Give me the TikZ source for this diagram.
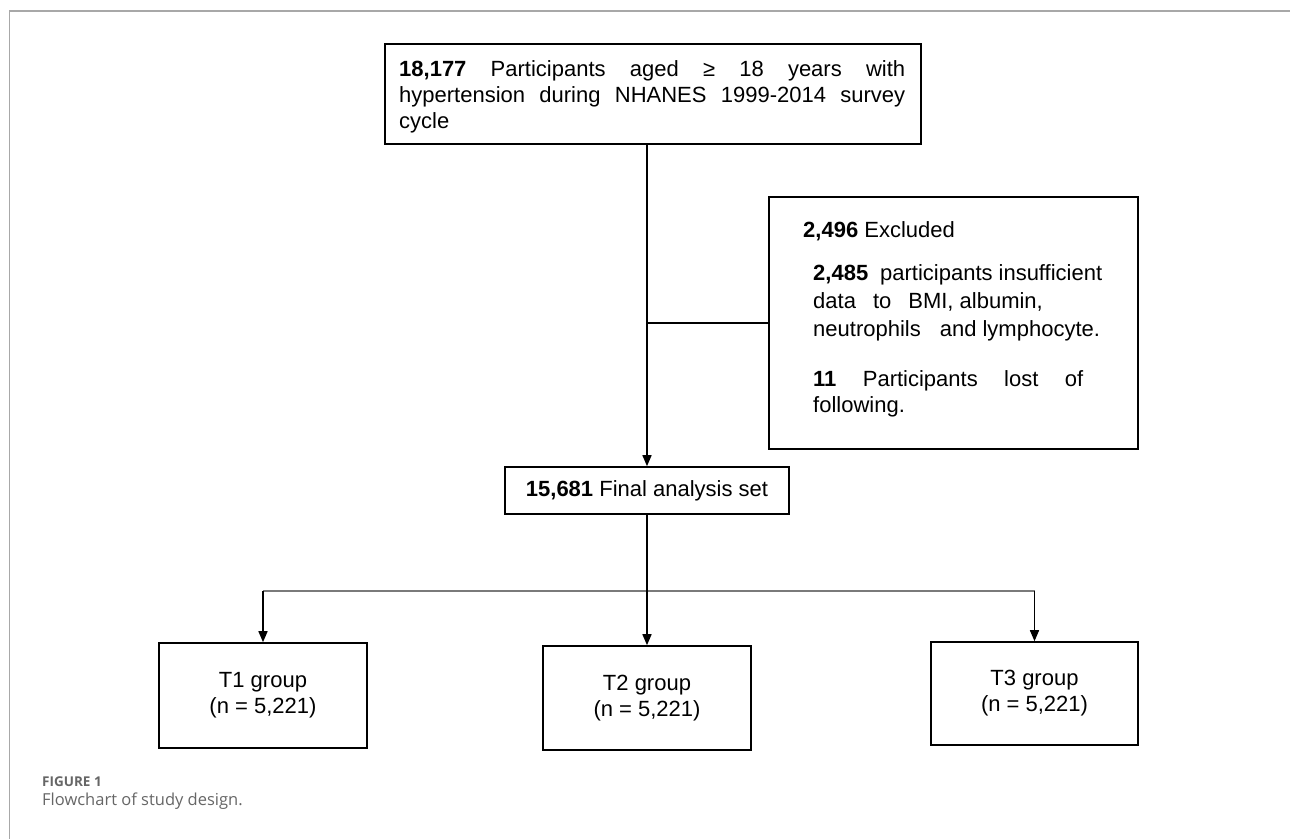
\documentclass[tikz,border=0pt]{standalone}
\usepackage{fontspec}
\setmainfont{Liberation Sans}
\newfontfamily\capfont{Open Sans}
\usetikzlibrary{arrows.meta}
\definecolor{capgray}{HTML}{666666}
\definecolor{framegray}{HTML}{A8A8A8}
\definecolor{hgray}{HTML}{7A7A7A}
\begin{document}
\begin{tikzpicture}[x=1pt,y=-1pt,
  box/.style={draw=black,line width=1.6pt,inner sep=0pt},
  conn/.style={line width=1.5pt,black},
  arr/.style={conn,-{Triangle[length=11pt,width=9pt]}},
  bar/.style={line width=1.5pt,hgray},
  txt/.style={inner sep=0pt,font=\fontsize{22}{26}\selectfont},
]
\useasboundingbox (0,0) rectangle (1290,839);
% frame
\draw[framegray,line width=2pt] (9,10.5) -- (1290,10.5);
\draw[framegray,line width=1pt] (9,10.5) -- (9,839);

% top box
\node[box,minimum width=536pt,minimum height=100pt] (top) at (653,94) {};
\node[txt,anchor=base west] (toptext) at (399,76) {\begin{tabular}[t]{@{}l@{}}\makebox[506pt][s]{\textbf{18,177} Participants aged ≥ 18 years with}\\ \makebox[506pt][s]{hypertension during NHANES 1999-2014 survey}\\ cycle\end{tabular}};

% excluded box
\node[box,minimum width=369pt,minimum height=252pt] (exc) at (953.5,323) {};
\node[txt,anchor=base west,font=\fontsize{22}{28}\selectfont] (exctext) at (803,237.7) {\begin{tabular}[t]{@{}l@{}}
\textbf{2,496} Excluded\\[15pt]
\hspace*{10pt}\makebox[289pt][s]{\textbf{2,485}\ \ participants insufficient}\\
\hspace*{10pt}data\hspace{17pt}to\hspace{17pt}BMI, albumin,\\
\hspace*{10pt}neutrophils\hspace{19pt}and lymphocyte.\\[22pt]
\hspace*{10pt}\makebox[270pt][s]{\textbf{11} Participants lost of}\\[-2pt]
\hspace*{10pt}following.
\end{tabular}};

% final box
\node[box,txt,minimum width=284pt,minimum height=47pt] (final) at (647,490.5) {\textbf{15,681} Final analysis set};

% groups
\node[box,txt,align=center,minimum width=208pt,minimum height=105pt] (t1) at (263,695.5) {T1 group\\(n = 5,221)};
\node[box,txt,align=center,minimum width=208pt,minimum height=104pt] (t2) at (647,698) {T2 group\\(n = 5,221)};
\node[box,txt,align=center,minimum width=207pt,minimum height=103pt] (t3) at (1034.5,693.5) {T3 group\\(n = 5,221)};

% connectors
\coordinate (hbar) at (647,591);
\draw[arr] (final.north |- top.south) -- (final.north);
\draw[conn] (final.north |- exc.west) -- (exc.west);
\draw[bar] (t1.north |- hbar) -- (t3.north |- hbar);
\draw[arr] (final.south) -- (t2.north);
\draw[arr] (t1.north |- hbar) -- (t1.north);
\draw[arr] (t3.north |- hbar) -- (t3.north);

% caption
\node[anchor=base west,inner sep=0pt,font=\capfont\bfseries\fontsize{13.5}{16}\selectfont,text=capgray] (figlabel) at (42,786) {FIGURE 1};
\node[anchor=base west,inner sep=0pt,font=\capfont\fontsize{16.5}{20}\selectfont,text=capgray] (figcap) at (42,805) {Flowchart of study design.};
\end{tikzpicture}
\end{document}
